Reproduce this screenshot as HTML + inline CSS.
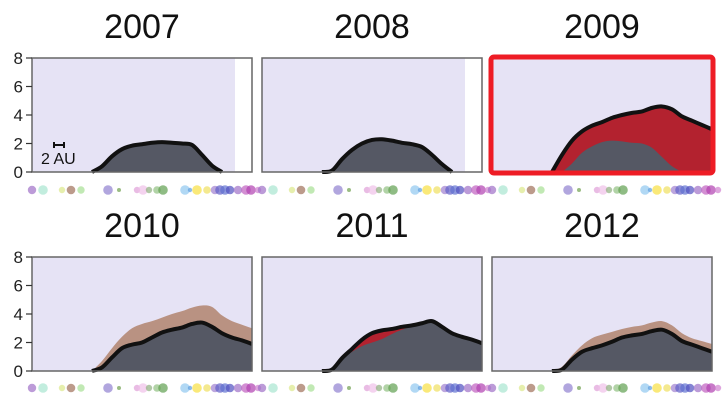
<!DOCTYPE html>
<html><head><meta charset="utf-8"><style>
html,body{margin:0;padding:0;background:#fff;}
svg{display:block;font-family:"Liberation Sans",sans-serif;}
</style></head><body>
<svg id="chart" width="727" height="400" viewBox="0 0 727 400" xmlns="http://www.w3.org/2000/svg"></svg>
<script>
const years = ["2007","2008","2009","2010","2011","2012"];
const yTicks = [0,2,4,6,8];
const grayVals = [
 [0,0,0,0,0,0,0,0.4,1.1,1.6,1.85,1.95,2.05,2.1,2.05,2.0,1.9,1.2,0.45,0,0],
 [0,0,0,0,0,0,0,0.1,0.85,1.5,1.95,2.15,2.25,2.2,2.05,1.95,1.75,1.2,0.55,0,0],
 [0,0,0,0,0,0,0,0,0.6,1.35,1.8,2.1,2.2,2.15,2.05,2.0,1.7,1.05,0.4,0,0,0,0],
 [0,0,0,0,0,0,0,0.25,0.95,1.6,1.85,2.0,2.35,2.7,2.9,3.05,3.3,3.4,3.1,2.65,2.35,2.15,1.9],
 [0,0,0,0,0,0,0,0.1,0.8,1.35,1.75,2.0,2.25,2.6,2.9,3.15,3.3,3.5,3.1,2.65,2.4,2.2,1.95],
 [0,0,0,0,0,0,0,0.1,0.8,1.35,1.6,1.8,2.05,2.35,2.5,2.6,2.8,2.9,2.6,2.1,1.85,1.6,1.35]
];
const overlayVals = [
 null,
 [0,0,0,0,0,0,0,0.1,0.9,1.55,2.0,2.25,2.3,2.2,2.05,1.95,1.75,1.2,0.55,0,0],
 [0,0,0,0,0,0,0,1.2,2.2,2.85,3.25,3.5,3.8,4.0,4.15,4.25,4.5,4.6,4.4,3.9,3.6,3.3,3.0],
 [0,0,0,0,0,0,0,0.7,1.6,2.4,3.0,3.3,3.5,3.75,4.0,4.2,4.45,4.6,4.5,3.9,3.5,3.25,3.0],
 [0,0,0,0,0,0,0,0.1,0.9,1.55,2.2,2.65,2.85,2.95,3.1,3.2,3.35,3.5,3.1,2.65,2.4,2.2,1.95],
 [0,0,0,0,0,0,0,0.3,1.1,1.8,2.3,2.55,2.75,2.95,3.1,3.2,3.4,3.5,3.2,2.65,2.3,2.1,1.9]
];
const overlayKind = ["none","red","red","tan","red","tan"];
const outlineOn = ["gray","overlay","overlay","gray","overlay","gray"];
const dataEnd = [20.3,20.3,22,22,22,22];
const dotOffsets = [0,11,30,39,49,76,87,105,111,117,125,131,153,158,165,175,183,188,193,198,206,214,219,226];
const dotRadii = [4.2,4.8,3.2,4.3,3.7,4.8,2,3.2,4.8,3.2,3.8,4.8,4.8,2.2,4.8,3.8,4.3,4.8,4.8,4.3,4.3,4.8,4.8,3.2];
const dotColors = ['#a070c8','#a8e6d0','#dce88a','#a0705a','#a6e094','#9080d0','#70a050','#e0a0d8','#f0c0e8','#90b080','#90c080','#60a050','#90c8f0','#60a0e0','#f8e040','#f0e060','#a080d0','#6060c8','#6070d0','#5050c0','#a070c8','#c060c0','#b040b0','#d080d0'];

const NS="http://www.w3.org/2000/svg";
const svg=document.getElementById('chart');
function mk(tag,attrs,parent){const e=document.createElementNS(NS,tag);for(const k in attrs)e.setAttribute(k,attrs[k]);(parent||svg).appendChild(e);return e;}
const colLeft=[32,262,492], rowTop=[58,257], W=220, H=114, STEP=10;
const colors={red:'#b3222f',tan:'#b99282'};
function yScale(v,row){return rowTop[row]+H - v/8*H;}
function xScale(i,col){return colLeft[col]+i*STEP;}
function smooth(pts){
  let d='';
  for(let i=0;i<pts.length-1;i++){
    const p0=pts[Math.max(i-1,0)],p1=pts[i],p2=pts[i+1],p3=pts[Math.min(i+2,pts.length-1)];
    const c1=[p1[0]+(p2[0]-p0[0])/6,p1[1]+(p2[1]-p0[1])/6];
    const c2=[p2[0]-(p3[0]-p1[0])/6,p2[1]-(p3[1]-p1[1])/6];
    d+=' C'+c1[0]+','+c1[1]+' '+c2[0]+','+c2[1]+' '+p2[0]+','+p2[1];
  }
  return d;
}
function range(vals){
  let s=0;while(s<vals.length-1&&vals[s+1]<=0)s++;
  let e=vals.length-1;while(e>0&&vals[e-1]<=0)e--;
  return [s,e];
}
function pts(vals,col,row){const [s,e]=range(vals);const a=[];for(let i=s;i<=e;i++)a.push([xScale(i,col),yScale(vals[i],row)]);return a;}
function areaPath(vals,col,row){
  const p=pts(vals,col,row),base=yScale(0,row);
  return 'M'+p[0][0]+','+base+' L'+p[0][0]+','+p[0][1]+smooth(p)+' L'+p[p.length-1][0]+','+base+' Z';}
function linePath(vals,col,row){
  const p=pts(vals,col,row);return 'M'+p[0][0]+','+p[0][1]+smooth(p);}

years.forEach((yr,p)=>{
  const col=p%3,row=Math.floor(p/3);
  const g=mk('g',{});
  
  
  const t=mk('text',{x:colLeft[col]+W/2,y:rowTop[row]-20,'text-anchor':'middle','font-size':34,fill:'#111'},g);
  t.textContent=yr;
  
  
  const bg=mk('rect',{x:colLeft[col],y:rowTop[row],width:W,height:H,fill:'#e6e3f5'},g);
  
  
  const endX=xScale(dataEnd[p],col);
  if(endX<colLeft[col]+W){
    const wr=mk('rect',{x:endX,y:rowTop[row],width:colLeft[col]+W-endX,height:H,fill:'#fff'},g);
    
    
  }
  const ov=overlayVals[p];
  if(ov){
    const a=mk('path',{d:areaPath(ov,col,row),fill:colors[overlayKind[p]]},g);
    
    
  }
  const ga=mk('path',{d:areaPath(grayVals[p],col,row),fill:'#555864'},g);
  
  
  const lv=outlineOn[p]==='overlay'?ov:grayVals[p];
  const ln=mk('path',{d:linePath(lv,col,row),fill:'none',stroke:'#111','stroke-width':4,'stroke-linejoin':'round','stroke-linecap':'butt'},g);
  
  
  const fr=mk('rect',{x:colLeft[col],y:rowTop[row],width:W,height:H,fill:'none',stroke:'#666','stroke-width':1.5},g);
  
  
  dotOffsets.forEach((o,i)=>{
    const c=mk('circle',{cx:colLeft[col]+o,cy:row?388:190,r:dotRadii[i],fill:dotColors[i],'fill-opacity':0.7},g);
    
    
  });
  if(col===0){
    const ax=mk('g',{},g);
    
    
    yTicks.forEach(v=>{
      const y=yScale(v,row);
      mk('line',{x1:colLeft[0]-6,x2:colLeft[0],y1:y,y2:y,stroke:'#333','stroke-width':1.2},ax);
      const tl=mk('text',{x:colLeft[0]-9,y:y+6,'text-anchor':'end','font-size':17,fill:'#222'},ax);
      tl.textContent=v;
      
      
    });
  }
  if(yr==='2009'){
    const hl=mk('rect',{x:colLeft[col]-1,y:rowTop[row]-1,width:W+2,height:H+2,rx:3,fill:'none',stroke:'#ee1c25','stroke-width':5},g);
    
    
  }
});
const sb=mk('g',{});


mk('line',{x1:54,x2:64,y1:145,y2:145,stroke:'#111','stroke-width':2},sb);
mk('line',{x1:54,x2:54,y1:142,y2:148,stroke:'#111','stroke-width':2},sb);
mk('line',{x1:64,x2:64,y1:142,y2:148,stroke:'#111','stroke-width':2},sb);
const st=mk('text',{x:41,y:164,'font-size':16,fill:'#111'},sb);
st.textContent='2 AU';
</script>
</body></html>
